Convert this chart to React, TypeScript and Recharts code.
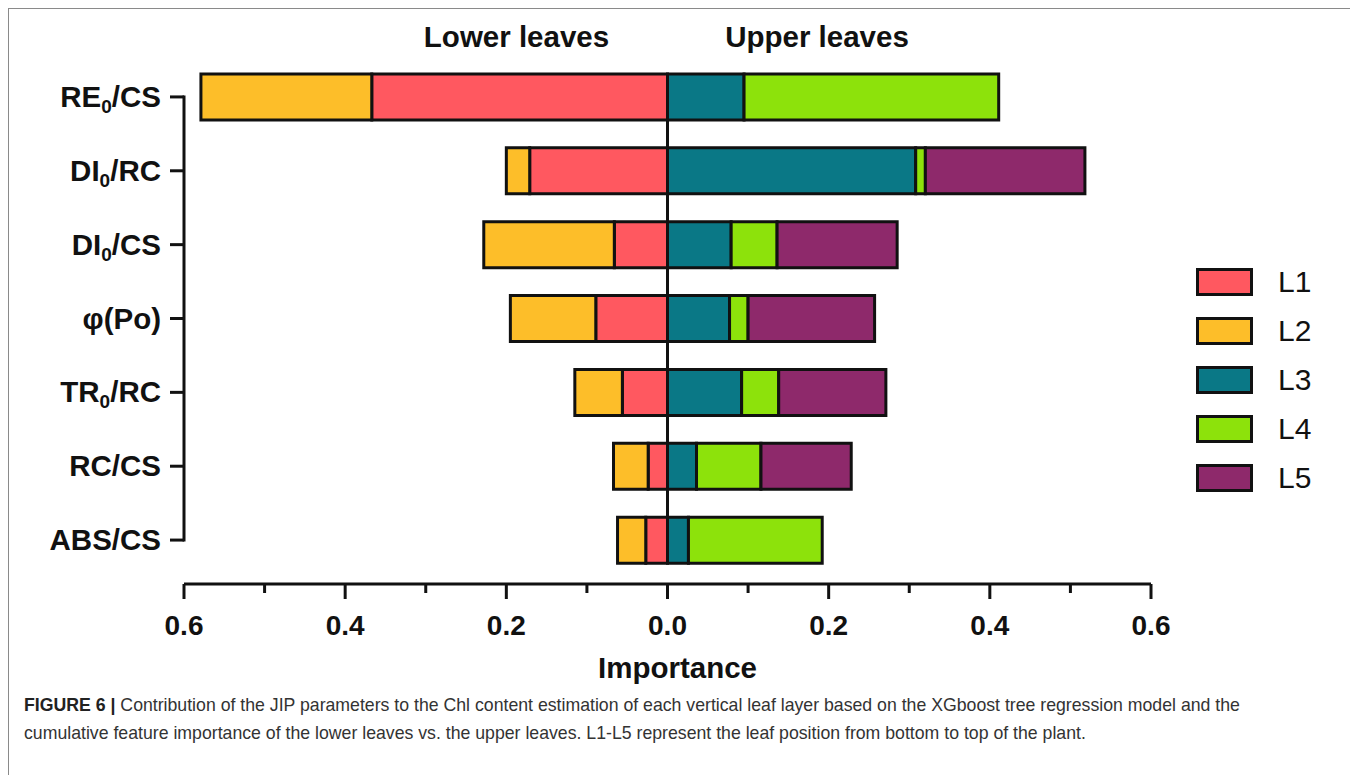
import { BarChart, Bar, XAxis, YAxis, ReferenceLine, Label } from "recharts";

// JIP parameters, top to bottom ("_" marks a subscript character)
const params = ["RE_0/CS", "DI_0/RC", "DI_0/CS", "φ(Po)", "TR_0/RC", "RC/CS", "ABS/CS"];

// feature importance per leaf layer; L1/L2 = lower leaves, L3-L5 = upper leaves
const l1 = [0.367, 0.171, 0.066, 0.089, 0.056, 0.024, 0.027];
const l2 = [0.212, 0.029, 0.162, 0.106, 0.059, 0.043, 0.035];
const l3 = [0.095, 0.308, 0.079, 0.077, 0.092, 0.036, 0.026];
const l4 = [0.316, 0.012, 0.057, 0.023, 0.046, 0.080, 0.166];
const l5 = [0, 0.198, 0.149, 0.157, 0.133, 0.112, 0];

const layers = ["L1", "L2", "L3", "L4", "L5"];
const colors = ["#FF5860", "#FDBE29", "#0A7886", "#8DE20B", "#8E296B"];

const xTicks = [-0.6, -0.5, -0.4, -0.3, -0.2, -0.1, 0, 0.1, 0.2, 0.3, 0.4, 0.5, 0.6];

// lower leaves go to the left of zero
const data = params.map((p, i) => ({
  param: p,
  L1: -l1[i],
  L2: -l2[i],
  L3: l3[i],
  L4: l4[i],
  L5: l5[i],
}));

const FONT = "'Liberation Sans', Arial, Helvetica, sans-serif";
const NARROW = "'Liberation Sans Narrow', 'Arial Narrow', 'Liberation Sans', Arial, sans-serif";
const INK = "#111";
const BAR_SIZE = 46;
const PAD_BOTTOM = 7;

function YTick({ x, y, payload }: any) {
  const [head, tail] = String(payload.value).split("_");
  return (
    <text x={x} y={y + 10} textAnchor="end" fontFamily={FONT} fontWeight="bold" fontSize={29.5} fill={INK}>
      {head}
      {tail !== undefined && (
        <>
          <tspan fontSize={19} dy={6}>{tail[0]}</tspan>
          <tspan dy={-6}>{tail.slice(1)}</tspan>
        </>
      )}
    </text>
  );
}

function XTick({ x, y, payload }: any) {
  const v = payload.value as number;
  const major = Math.round(Math.abs(v) * 10) % 2 === 0;
  return (
    <g>
      <line x1={x} x2={x} y1={y} y2={y + (major ? 15 : 9)} stroke={INK} strokeWidth={3} />
      {major && (
        <text x={x} y={y + 51} textAnchor="middle" fontFamily={FONT} fontWeight="bold" fontSize={28} fill={INK}>
          {Math.abs(v).toFixed(1)}
        </text>
      )}
    </g>
  );
}

// vertical line trimmed to the category rows; `extra` = how far past the bar edges to trim
function rowLine(extra: (band: number) => number, cap: "butt" | "square") {
  return (props: any) => {
    const top = Math.min(props.y1, props.y2);
    const bottom = Math.max(props.y1, props.y2) - PAD_BOTTOM;
    const band = (bottom - top) / params.length;
    const inset = extra(band);
    return (
      <line
        x1={props.x1}
        x2={props.x2}
        y1={top + inset}
        y2={bottom - inset}
        stroke={INK}
        strokeWidth={3}
        strokeLinecap={cap}
      />
    );
  };
}

function Chart() {
  return (
    <BarChart
      width={1340}
      height={700}
      data={data}
      layout="vertical"
      stackOffset="sign"
      margin={{ top: 51, right: 198, bottom: 25, left: 15 }}
    >
      <XAxis
        type="number"
        domain={[-0.6, 0.6]}
        ticks={xTicks}
        interval={0}
        height={100}
        axisLine={{ stroke: INK, strokeWidth: 3 }}
        tickLine={false}
        tickSize={0}
        tickMargin={0}
        tick={<XTick />}
      >
        <Label
          content={(props: any) => {
            const vb = props.viewBox;
            return (
              <text
                x={vb.x + vb.width / 2 + 10}
                y={vb.y + 94}
                textAnchor="middle"
                fontFamily={FONT}
                fontWeight="bold"
                fontSize={29.5}
                fill={INK}
              >
                Importance
              </text>
            );
          }}
        />
      </XAxis>
      <YAxis
        type="category"
        dataKey="param"
        width={160}
        interval={0}
        axisLine={false}
        tickLine={{ stroke: INK, strokeWidth: 3 }}
        tickSize={14}
        tickMargin={9}
        padding={{ top: 0, bottom: PAD_BOTTOM }}
        tick={<YTick />}
      />
      {layers.map((k, i) => (
        <Bar
          key={k}
          dataKey={k}
          stackId="leaf"
          fill={colors[i]}
          stroke={INK}
          strokeWidth={3}
          barSize={BAR_SIZE}
          isAnimationActive={false}
        />
      ))}
      <ReferenceLine x={0} shape={rowLine((band) => (band - BAR_SIZE) / 2, "butt")} />
      <ReferenceLine x={-0.6} shape={rowLine((band) => band / 2, "square")} />
    </BarChart>
  );
}

export default function App() {
  return (
    <div
      style={{
        position: "relative",
        width: 1345,
        height: 800,
        border: "1px solid #8a8a8a",
        background: "#fff",
        fontFamily: FONT,
      }}
    >
      <div style={{ position: "absolute", left: 0, top: 0 }}>
        <Chart />
      </div>

      {[
        { text: "Lower leaves", cx: 507.5 },
        { text: "Upper leaves", cx: 808 },
      ].map((t) => (
        <div
          key={t.text}
          style={{
            position: "absolute",
            left: t.cx,
            top: 14,
            transform: "translateX(-50%)",
            fontSize: 29.5,
            lineHeight: "28px",
            fontWeight: "bold",
            color: INK,
            whiteSpace: "nowrap",
          }}
        >
          {t.text}
        </div>
      ))}

      <div style={{ position: "absolute", left: 1187, top: 259, display: "flex", flexDirection: "column", gap: 21 }}>
        {layers.map((k, i) => (
          <div key={k} style={{ display: "flex", alignItems: "center", height: 28 }}>
            <div
              style={{
                width: 57,
                height: 28,
                boxSizing: "border-box",
                border: `3px solid ${INK}`,
                background: colors[i],
              }}
            />
            <span style={{ marginLeft: 25, fontFamily: NARROW, fontSize: 30, color: INK, lineHeight: "28px" }}>
              {k}
            </span>
          </div>
        ))}
      </div>

      <div
        style={{
          position: "absolute",
          left: 15,
          top: 682,
          fontSize: 17.7,
          lineHeight: "28px",
          color: "#333",
          whiteSpace: "nowrap",
        }}
      >
        <b style={{ color: "#222" }}>FIGURE 6 |</b> Contribution of the JIP parameters to the Chl content estimation of
        each vertical leaf layer based on the XGboost tree regression model and the
        <br />
        cumulative feature importance of the lower leaves vs. the upper leaves. L1-L5 represent the leaf position from
        bottom to top of the plant.
      </div>
    </div>
  );
}
